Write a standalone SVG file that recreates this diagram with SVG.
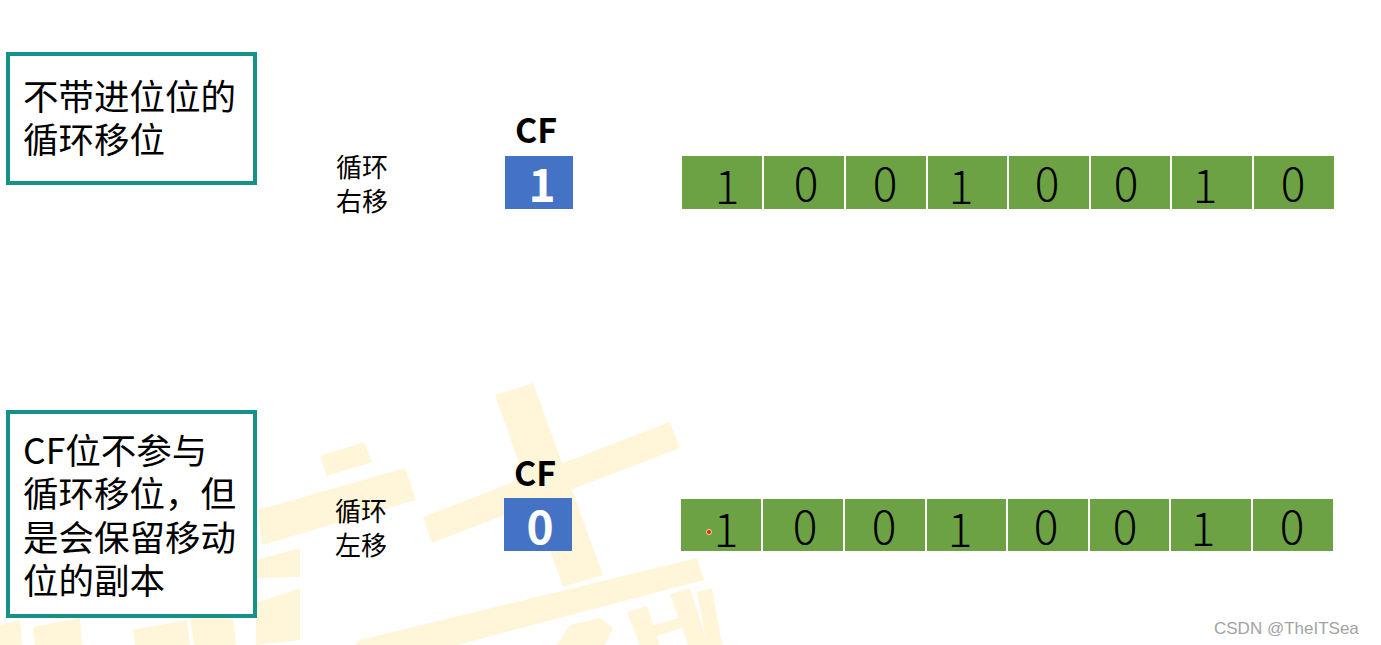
<svg xmlns="http://www.w3.org/2000/svg" width="1381" height="645" viewBox="0 0 1381 645">
<style>
.wm{fill:#FFF5D9}
.note{fill:#FFFFFF;stroke:#16918A;stroke-width:4}
.cn{font-family:"Noto Sans CJK SC","Noto Sans",sans-serif;fill:#000}
.big{font-size:35.5px}
.lbl{font-size:26px}
.cf{font-family:"Noto Sans CJK SC","Noto Sans",sans-serif;font-weight:bold;font-size:34px;fill:#000;text-anchor:middle}
.cfbox{fill:#4472C4}
.cfval{font-family:"Noto Sans CJK SC","Noto Sans",sans-serif;font-weight:bold;font-size:46px;fill:#FFFFFF;text-anchor:middle}
.cell{fill:#6DA244}
.bit{font-family:"Noto Sans CJK SC","Noto Sans",sans-serif;font-weight:300;font-size:46px;fill:#000;text-anchor:middle}
.credit{font-family:"Liberation Sans",Arial,sans-serif;font-size:17px;fill:#A3A3A3}
</style>
<rect width="1381" height="645" fill="#FFFFFF"/>
<g id="watermark">
<polygon class="wm" points="423,517 670,422 680,448 432,543"/>
<polygon class="wm" points="495,395 533,383 603,575 563,587"/>
<polygon class="wm" points="360,640 697,558 704,580 400,660 340,660"/>
<polygon class="wm" points="258,510 405,468 416,500 262,545"/>
<polygon class="wm" points="320,456 364,442 372,462 327,476"/>
<polygon class="wm" points="256,603 300,588 300,640 256,645"/>
<polygon class="wm" points="256,560 300,548 300,577 256,578"/>
<polygon class="wm" points="0,625 20,620 22,645 0,645"/>
<polygon class="wm" points="33,627 80,618 82,645 35,645"/>
<polygon class="wm" points="133,630 187,620 190,645 135,645"/>
<polygon class="wm" points="190,618 232,610 236,645 194,645"/>
<polygon class="wm" points="557,645 570,625 600,618 613,628 605,645"/>
<polygon class="wm" points="627,612 647,606 660,645 640,645"/>
<polygon class="wm" points="670,594 690,588 708,645 688,645"/>
<polygon class="wm" points="640,630 690,614 694,624 644,640"/>
<polygon class="wm" points="697,592 712,588 722,645 707,645"/>
</g>
<g id="note-top">
<rect class="note" x="8" y="54" width="247" height="129"/>
<text class="cn big"><tspan x="23" y="110">不带进位位的</tspan><tspan x="23" y="153">循环移位</tspan></text>
</g>
<g id="note-bottom">
<rect class="note" x="8" y="412" width="247" height="204"/>
<text class="cn big"><tspan x="23" y="464">CF位不参与</tspan><tspan x="23" y="507">循环移位，但</tspan><tspan x="23" y="551">是会保留移动</tspan><tspan x="23" y="594">位的副本</tspan></text>
</g>
<g id="label-top">
<text class="cn lbl"><tspan x="336" y="177">循环</tspan><tspan x="336" y="211">右移</tspan></text>
</g>
<g id="label-bottom">
<text class="cn lbl"><tspan x="335" y="521">循环</tspan><tspan x="335" y="555">左移</tspan></text>
</g>
<g id="cf-top">
<text class="cf" x="536" y="143">CF</text>
<rect class="cfbox" x="505" y="156" width="68" height="53"/>
<text class="cfval" x="542" y="202">1</text>
</g>
<g id="cf-bottom">
<text class="cf" x="535" y="486">CF</text>
<rect class="cfbox" x="504" y="498" width="68" height="53"/>
<text class="cfval" x="540" y="544">0</text>
</g>
<g id="bits-top">
<rect class="cell" x="682" y="156" width="80" height="53"/>
<rect class="cell" x="764" y="156" width="80" height="53"/>
<rect class="cell" x="846" y="156" width="80" height="53"/>
<rect class="cell" x="928" y="156" width="79" height="53"/>
<rect class="cell" x="1009" y="156" width="80" height="53"/>
<rect class="cell" x="1091" y="156" width="79" height="53"/>
<rect class="cell" x="1172" y="156" width="80" height="53"/>
<rect class="cell" x="1254" y="156" width="80" height="53"/>
<text class="bit" x="727" y="204">1</text>
<text class="bit" x="806" y="201">0</text>
<text class="bit" x="885" y="201">0</text>
<text class="bit" x="961" y="204">1</text>
<text class="bit" x="1047" y="201">0</text>
<text class="bit" x="1126" y="201">0</text>
<text class="bit" x="1205" y="203">1</text>
<text class="bit" x="1293" y="201">0</text>
</g>
<g id="bits-bottom">
<rect class="cell" x="681" y="499" width="80" height="52"/>
<rect class="cell" x="763" y="499" width="80" height="52"/>
<rect class="cell" x="845" y="499" width="80" height="52"/>
<rect class="cell" x="927" y="499" width="79" height="52"/>
<rect class="cell" x="1008" y="499" width="80" height="52"/>
<rect class="cell" x="1090" y="499" width="79" height="52"/>
<rect class="cell" x="1171" y="499" width="80" height="52"/>
<rect class="cell" x="1253" y="499" width="80" height="52"/>
<text class="bit" x="726" y="547">1</text>
<text class="bit" x="805" y="544">0</text>
<text class="bit" x="884" y="544">0</text>
<text class="bit" x="960" y="547">1</text>
<text class="bit" x="1046" y="544">0</text>
<text class="bit" x="1125" y="544">0</text>
<text class="bit" x="1203" y="546">1</text>
<text class="bit" x="1292" y="544">0</text>
<circle cx="709" cy="532" r="2.5" fill="#E02020" stroke="#F5E27A" stroke-width="1"/>
</g>
<g id="credit">
<text class="credit" x="1214" y="634">CSDN @TheITSea</text>
</g>
</svg>
